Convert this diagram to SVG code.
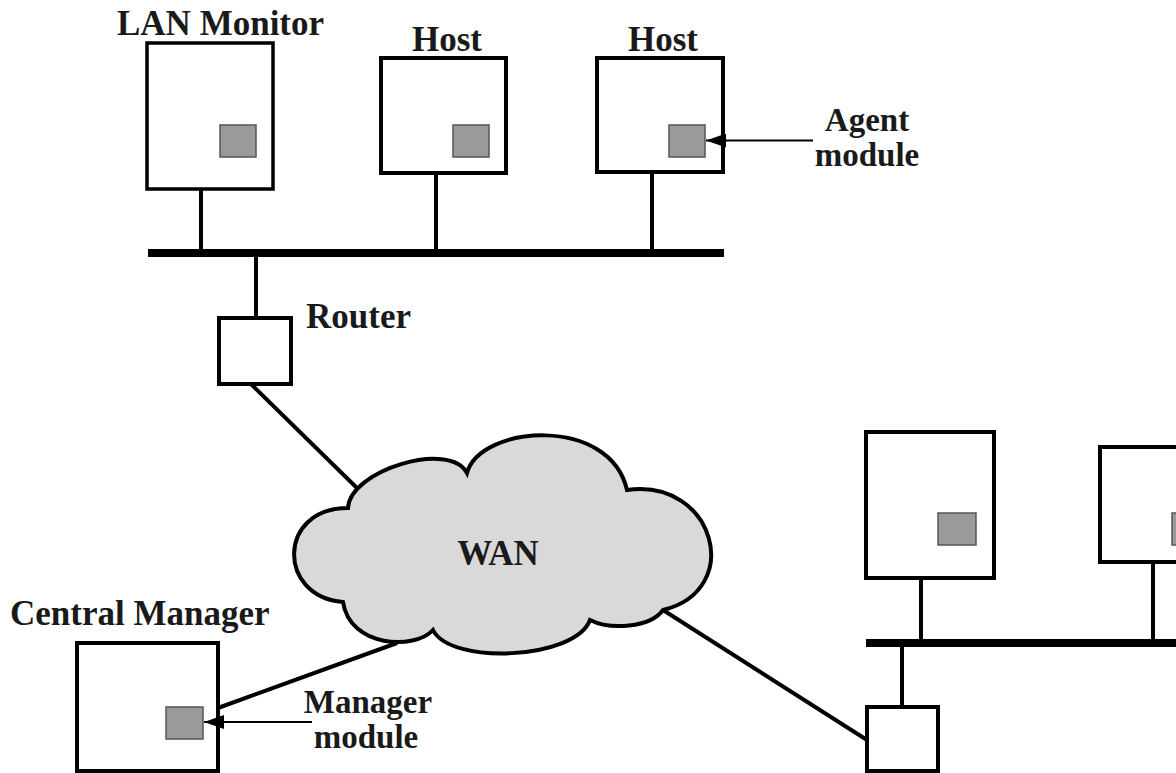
<svg xmlns="http://www.w3.org/2000/svg" width="1176" height="773" viewBox="0 0 1176 773">
<style>
.box{fill:#fff;stroke:#000;stroke-width:4}
.mod{fill:#9a9a9a;stroke:#555;stroke-width:1.5}
.lbl{font-family:"Liberation Serif","Times New Roman",serif;font-weight:bold;font-size:35px;fill:#1a1a1a}
.call{font-size:33px}
.wire{stroke:#000;stroke-width:4;fill:none}
.bus{stroke:#000;stroke-width:8;fill:none}
.ptr{stroke:#000;stroke-width:2;fill:none}
</style>
<defs>
<marker id="ah" viewBox="0 0 20 14" refX="20" refY="7" markerWidth="20" markerHeight="14" markerUnits="userSpaceOnUse" orient="auto">
<path d="M0,0 L20,7 L0,14 Z" fill="#000"/>
</marker>
</defs>
<rect width="1176" height="773" fill="#fff"/>

<g id="connectors">
<line class="bus" x1="148" y1="253" x2="724" y2="253"/>
<line class="wire" x1="201" y1="189" x2="201" y2="253"/>
<line class="wire" x1="436" y1="173" x2="436" y2="253"/>
<line class="wire" x1="652" y1="172" x2="652" y2="253"/>
<line class="wire" x1="256" y1="253" x2="256" y2="318"/>
<line class="wire" x1="251" y1="384" x2="358" y2="489"/>
<line class="wire" x1="397" y1="643" x2="218" y2="708"/>
<line class="wire" x1="663" y1="610" x2="867" y2="740"/>
<line class="bus" x1="866" y1="643" x2="1176" y2="643"/>
<line class="wire" x1="921" y1="578" x2="921" y2="643"/>
<line class="wire" x1="1153" y1="562" x2="1153" y2="643"/>
<line class="wire" x1="902" y1="643" x2="902" y2="707"/>
</g>

<g id="lan-monitor">
<rect class="box" x="147" y="43" width="126" height="146" style="stroke-width:3.5"/>
<rect class="mod" x="220" y="125" width="36" height="32"/>
<text class="lbl" x="117" y="35">LAN Monitor</text>
</g>

<g id="host-1">
<rect class="box" x="381" y="58" width="125" height="115"/>
<rect class="mod" x="453" y="125" width="36" height="32"/>
<text class="lbl" x="447" y="51" text-anchor="middle">Host</text>
</g>

<g id="host-2">
<rect class="box" x="597" y="58" width="126" height="114"/>
<rect class="mod" x="669" y="125" width="36" height="32"/>
<text class="lbl" x="663" y="51" text-anchor="middle">Host</text>
</g>

<g id="router-1">
<rect class="box" x="219" y="318" width="72" height="66"/>
<text class="lbl" x="306" y="328">Router</text>
</g>

<g id="wan">
<path d="M348,508 C350,470 450,440 467,473 C480,425 610,415 627,490 C715,478 745,590 663,610 C650,628 610,630 590,620 C575,660 450,665 433,630 C415,650 350,648 343,602 C277,597 277,508 348,508 Z" fill="#d9d9d9" stroke="#000" stroke-width="4" stroke-linejoin="miter"/>
<text class="lbl" x="498" y="565" text-anchor="middle">WAN</text>
</g>

<g id="central-manager">
<rect class="box" x="77" y="643" width="141" height="128"/>
<rect class="mod" x="166" y="707" width="37" height="32"/>
<text class="lbl" x="10" y="625">Central Manager</text>
</g>

<g id="host-3">
<rect class="box" x="866" y="432" width="128" height="146"/>
<rect class="mod" x="938" y="513" width="38" height="32"/>
</g>

<g id="host-4">
<rect class="box" x="1100" y="447" width="100" height="115"/>
<rect class="mod" x="1172" y="513" width="38" height="32"/>
</g>

<g id="router-2">
<rect class="box" x="867" y="707" width="71" height="64"/>
</g>

<g id="agent-module-callout">
<line class="ptr" x1="813" y1="140.5" x2="706" y2="140.5" marker-end="url(#ah)"/>
<text class="lbl call" x="867" y="131" text-anchor="middle">Agent</text>
<text class="lbl call" x="867" y="166" text-anchor="middle">module</text>
</g>

<g id="manager-module-callout">
<line class="ptr" x1="312" y1="722" x2="204" y2="722" marker-end="url(#ah)"/>
<text class="lbl call" x="368" y="713" text-anchor="middle">Manager</text>
<text class="lbl call" x="366" y="748" text-anchor="middle">module</text>
</g>
</svg>
